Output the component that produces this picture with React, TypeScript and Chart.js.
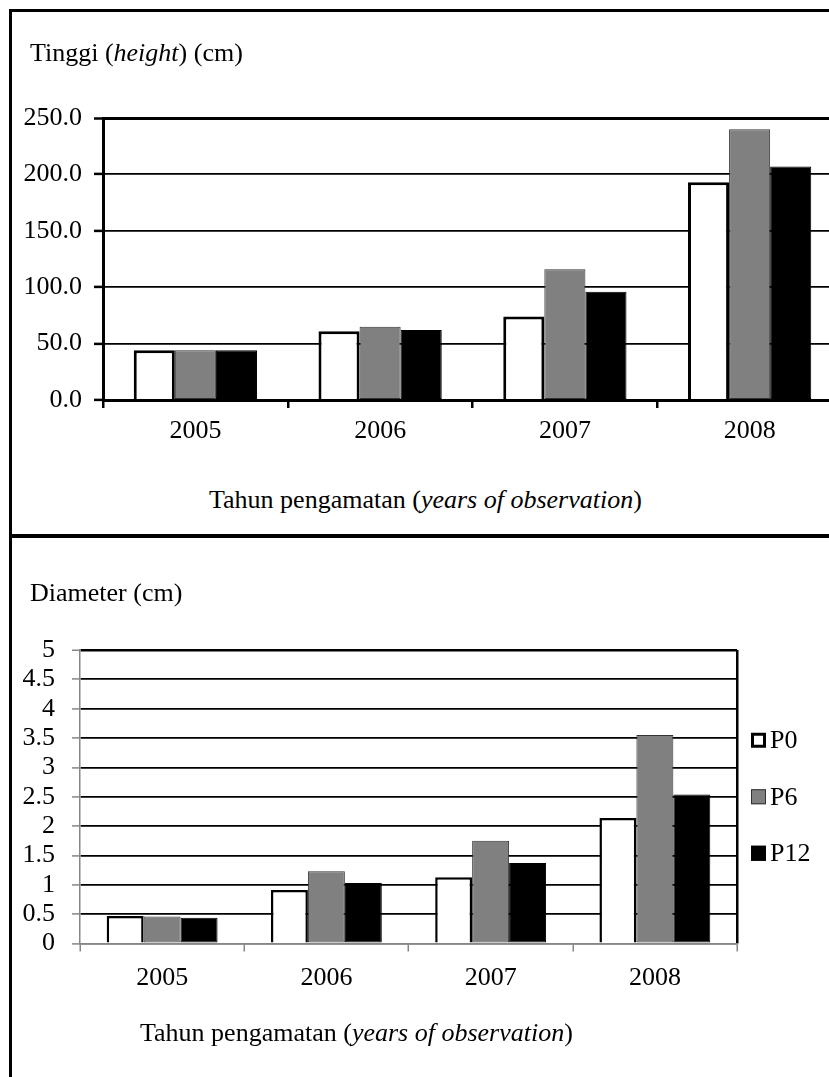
import React, { useEffect, useRef } from "react";
import { Chart, registerables } from "chart.js";

Chart.register(...registerables);

const FONT = "'Liberation Serif', 'Times New Roman', serif";

const years = ["2005", "2006", "2007", "2008"];
const seriesNames = ["P0", "P6", "P12"];

const heightP0 = [44, 61, 74, 193];
const heightP6 = [44, 65, 116, 240];
const heightP12 = [44, 62, 96, 207];
const heightTicks = ["0.0", "50.0", "100.0", "150.0", "200.0", "250.0"];

const diameterP0 = [0.47, 0.91, 1.13, 2.14];
const diameterP6 = [0.46, 1.23, 1.75, 3.55];
const diameterP12 = [0.44, 1.03, 1.37, 2.54];
const diameterTicks = ["0", "0.5", "1", "1.5", "2", "2.5", "3", "3.5", "4", "4.5", "5"];

const seriesFill = ["#ffffff", "#808080", "#000000"];
const seriesBorder = ["#000000", "#333333", "#000000"];

const GREY_AXIS = "#868686";

function makeDatasets(values: number[][], whiteBorder: number) {
  return values.map((data, i) => ({
    label: seriesNames[i],
    data,
    backgroundColor: seriesFill[i],
    borderColor: seriesBorder[i],
    borderWidth: i === 0 ? whiteBorder : 1,
    borderSkipped: i === 0 ? ("bottom" as const) : (false as const),
    legendBorder: i === 0 ? 3 : 1,
  }));
}

const sideLegend = {
  id: "sideLegend",
  afterDraw(chart: any) {
    const { ctx, chartArea } = chart;
    const ds = chart.data.datasets;
    const n = ds.length;
    const cy = (chartArea.top + chartArea.bottom) / 2;
    ctx.save();
    ds.forEach((d: any, i: number) => {
      const y = cy + (i - (n - 1) / 2) * 56.5;
      const x = chartArea.right + 14;
      const s = 15;
      ctx.fillStyle = d.backgroundColor;
      ctx.fillRect(x, y - s / 2, s, s);
      const lw = d.legendBorder;
      ctx.lineWidth = lw;
      ctx.strokeStyle = d.borderColor;
      ctx.strokeRect(x + lw / 2, y - s / 2 + lw / 2, s - lw, s - lw);
      ctx.fillStyle = "#000";
      ctx.font = `26px ${FONT}`;
      ctx.textAlign = "left";
      ctx.textBaseline = "middle";
      ctx.fillText(d.label, x + s + 4, y + 1);
    });
    ctx.restore();
  },
};

export default function App() {
  const topRef = useRef<HTMLCanvasElement | null>(null);
  const botRef = useRef<HTMLCanvasElement | null>(null);

  useEffect(() => {
    Chart.defaults.font.family = FONT;
    Chart.defaults.color = "#000";

    const top = new Chart(topRef.current as HTMLCanvasElement, {
      type: "bar",
      data: {
        labels: years,
        datasets: makeDatasets([heightP0, heightP6, heightP12], 3) as any,
      },
      options: {
        animation: false,
        responsive: false,
        maintainAspectRatio: false,
        layout: { padding: { top: 118, left: 0, right: 0, bottom: 0 } },
        plugins: { legend: { display: false }, tooltip: { enabled: false } },
        datasets: { bar: { categoryPercentage: 0.667, barPercentage: 1 } },
        scales: {
          x: {
            grid: {
              offset: true,
              drawOnChartArea: false,
              drawTicks: true,
              tickLength: 8,
              color: "#000",
              lineWidth: 2.5,
            },
            border: { color: "#000", width: 3, z: 1 },
            ticks: { padding: 8, color: "#000", font: { size: 26 }, maxRotation: 0, autoSkip: false },
            afterFit: (s: any) => {
              s.height = 60;
            },
          },
          y: {
            min: 0,
            max: 250,
            ticks: {
              stepSize: 50,
              padding: 12,
              color: "#000",
              font: { size: 26 },
              autoSkip: false,
              callback: (_v: any, i: number) => heightTicks[i],
            },
            grid: {
              color: "#000",
              lineWidth: (c: any) => (c.index === heightTicks.length - 1 ? 3 : 1.8),
              tickLength: 9,
              tickColor: "#000",
              tickWidth: 2.5,
            },
            border: { color: "#000", width: 3 },
            afterFit: (s: any) => {
              s.width = 103;
            },
          },
        },
      } as any,
    });

    const bot = new Chart(botRef.current as HTMLCanvasElement, {
      type: "bar",
      data: {
        labels: years,
        datasets: makeDatasets([diameterP0, diameterP6, diameterP12], 2.5) as any,
      },
      options: {
        animation: false,
        responsive: false,
        maintainAspectRatio: false,
        layout: { padding: { top: 110, left: 0, right: 92, bottom: 0 } },
        plugins: { legend: { display: false }, tooltip: { enabled: false } },
        datasets: { bar: { categoryPercentage: 0.675, barPercentage: 1 } },
        scales: {
          x: {
            grid: {
              offset: true,
              drawOnChartArea: true,
              drawTicks: true,
              tickLength: 8,
              color: (c: any) => (c.type === "tick" ? "rgba(0,0,0,0)" : "#000"),
              lineWidth: 2.5,
              tickColor: GREY_AXIS,
              tickWidth: 1.5,
            },
            border: { color: GREY_AXIS, width: 1.5, z: 1 },
            ticks: { padding: 11, color: "#000", font: { size: 26 }, maxRotation: 0, autoSkip: false },
            afterFit: (s: any) => {
              s.height = 76.5;
            },
          },
          y: {
            min: 0,
            max: 5,
            ticks: {
              stepSize: 0.5,
              padding: 17,
              color: "#000",
              font: { size: 26 },
              autoSkip: false,
              callback: (_v: any, i: number) => diameterTicks[i],
            },
            grid: {
              color: (c: any) => (c.index === 0 ? GREY_AXIS : "#000"),
              lineWidth: (c: any) => (c.index === diameterTicks.length - 1 ? 2.5 : 1.8),
              tickLength: 8,
              tickColor: GREY_AXIS,
              tickWidth: 1.5,
            },
            border: { color: GREY_AXIS, width: 1.5 },
            afterFit: (s: any) => {
              s.width = 80;
            },
          },
        },
      } as any,
      plugins: [sideLegend],
    });

    return () => {
      top.destroy();
      bot.destroy();
    };
  }, []);

  const text: React.CSSProperties = {
    position: "absolute",
    fontFamily: FONT,
    fontSize: 26,
    lineHeight: "26px",
    whiteSpace: "nowrap",
    color: "#000",
  };

  return (
    <div
      style={{
        position: "absolute",
        left: 0,
        top: 0,
        width: 829,
        height: 1077,
        overflow: "hidden",
        background: "#fff",
      }}
    >
      <div style={{ position: "absolute", left: 9, top: 9, width: 3, height: 1068, background: "#000" }} />
      <div style={{ position: "absolute", left: 9, top: 9, width: 820, height: 3, background: "#000" }} />
      <div style={{ position: "absolute", left: 9, top: 534, width: 820, height: 4, background: "#000" }} />
      <canvas
        ref={topRef}
        width={842}
        height={460}
        style={{ position: "absolute", left: 0, top: 0, width: 842, height: 460 }}
      />
      <canvas
        ref={botRef}
        width={829}
        height={480}
        style={{ position: "absolute", left: 0, top: 540, width: 829, height: 480 }}
      />
      <div style={{ ...text, left: 30, top: 40 }}>
        Tinggi (<i>height</i>) (cm)
      </div>
      <div style={{ ...text, left: 209, top: 487 }}>
        Tahun pengamatan (<i>years of observation</i>)
      </div>
      <div style={{ ...text, left: 30, top: 580 }}>Diameter (cm)</div>
      <div style={{ ...text, left: 140, top: 1020 }}>
        Tahun pengamatan (<i>years of observation</i>)
      </div>
    </div>
  );
}
